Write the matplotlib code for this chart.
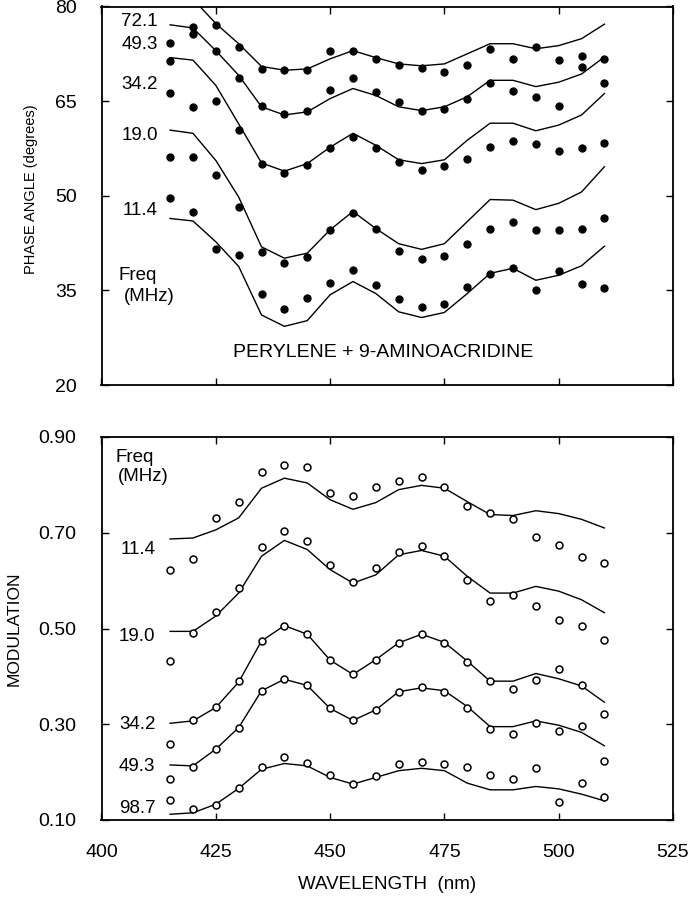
import matplotlib
matplotlib.use("Agg")
import matplotlib.pyplot as plt

plt.rcParams['font.family'] = ['Liberation Sans', 'DejaVu Sans']

# ---------------- data ----------------
wavelength = [415, 420, 425, 430, 435, 440, 445, 450, 455, 460,
              465, 470, 475, 480, 485, 490, 495, 500, 505, 510]

# Phase angle: model lines (top to bottom)
phase_line_1 = [81.6, 81.2, 77.3, 74.1, 70.5, 69.9, 70.1, 71.7, 73.0, 71.9,
                70.9, 70.6, 70.9, 72.5, 74.1, 74.1, 73.3, 73.8, 74.9, 77.2]
phase_line_2 = [77.1, 76.6, 73.0, 69.1, 64.1, 62.8, 63.3, 65.4, 67.0, 65.9,
                64.1, 63.5, 64.1, 65.7, 68.3, 68.3, 67.3, 68.0, 69.3, 72.0]
phase_line_3 = [71.9, 71.5, 67.5, 61.4, 55.2, 53.9, 55.1, 57.7, 59.9, 58.0,
                55.7, 55.1, 55.7, 58.8, 61.5, 61.5, 60.3, 61.2, 62.8, 66.2]
phase_line_4 = [60.4, 59.9, 55.6, 49.8, 41.9, 40.1, 40.9, 44.6, 47.5, 44.8,
                42.4, 41.5, 42.4, 45.9, 49.4, 49.3, 47.8, 48.8, 50.6, 54.6]
phase_line_5 = [46.4, 46.0, 42.7, 38.8, 31.1, 29.3, 30.2, 34.3, 36.4, 34.5,
                31.6, 30.7, 31.5, 34.5, 37.7, 38.5, 36.6, 37.4, 38.9, 42.0]

# Phase angle: measured points
phase_pts_1 = [74.2, 76.8, 77.0, 73.6, 70.1, 69.9, 70.0, 72.9, 73.0, 71.7,
               70.8, 70.2, 69.6, 70.8, 73.3, 71.7, 73.6, 71.5, 72.1, 71.6]
phase_pts_2 = [71.3, 75.7, 72.9, 68.7, 64.3, 63.0, 63.5, 66.8, 68.6, 66.4,
               64.9, 63.5, 63.8, 65.4, 67.8, 66.6, 65.7, 64.3, 70.4, 67.9]
phase_pts_3 = [66.3, 64.0, 65.0, 60.4, 55.1, 53.6, 54.8, 57.5, 59.3, 57.5,
               55.3, 54.1, 54.7, 55.9, 57.8, 58.6, 58.2, 57.1, 57.6, 58.3]
phase_pts_4 = [56.2, 56.2, 53.3, 48.2, 41.1, 39.4, 40.3, 44.6, 47.2, 44.7,
               41.2, 39.9, 40.4, 42.4, 44.8, 45.8, 44.6, 44.5, 44.8, 46.4]
phase_pts_5 = [49.6, 47.5, 41.5, 40.6, 34.5, 32.0, 33.8, 36.1, 38.3, 35.9,
               33.6, 32.3, 32.8, 35.6, 37.6, 38.5, 35.1, 38.1, 36.0, 35.3]

phase_labels = ["72.1", "49.3", "34.2", "19.0", "11.4"]
phase_label_y = [77.6, 73.9, 67.6, 59.5, 47.7]

# Modulation: model lines (top to bottom)
mod_line_1 = [0.687, 0.689, 0.706, 0.731, 0.793, 0.814, 0.804, 0.769, 0.749, 0.763,
              0.790, 0.799, 0.793, 0.765, 0.738, 0.736, 0.746, 0.740, 0.728, 0.710]
mod_line_2 = [0.494, 0.494, 0.526, 0.574, 0.651, 0.684, 0.665, 0.623, 0.595, 0.612,
              0.654, 0.663, 0.651, 0.609, 0.574, 0.574, 0.588, 0.578, 0.560, 0.533]
mod_line_3 = [0.302, 0.307, 0.335, 0.388, 0.474, 0.506, 0.488, 0.434, 0.404, 0.435,
              0.470, 0.488, 0.471, 0.432, 0.390, 0.390, 0.406, 0.395, 0.380, 0.346]
mod_line_4 = [0.215, 0.213, 0.248, 0.293, 0.370, 0.394, 0.381, 0.333, 0.308, 0.330,
              0.368, 0.376, 0.370, 0.337, 0.295, 0.295, 0.307, 0.298, 0.283, 0.255]
mod_line_5 = [0.112, 0.115, 0.133, 0.166, 0.206, 0.218, 0.213, 0.189, 0.175, 0.189,
              0.203, 0.208, 0.203, 0.177, 0.163, 0.163, 0.170, 0.165, 0.154, 0.140]

# Modulation: measured points
mod_pts_1 = [0.623, 0.646, 0.731, 0.765, 0.826, 0.842, 0.838, 0.784, 0.777, 0.795,
             0.808, 0.817, 0.796, 0.755, 0.742, 0.728, 0.692, 0.674, 0.649, 0.637]
mod_pts_2 = [0.432, 0.490, 0.534, 0.585, 0.671, 0.703, 0.682, 0.632, 0.597, 0.626,
             0.659, 0.673, 0.652, 0.602, 0.557, 0.569, 0.548, 0.517, 0.506, 0.477]
mod_pts_3 = [0.258, 0.308, 0.337, 0.390, 0.474, 0.506, 0.488, 0.434, 0.404, 0.435,
             0.470, 0.488, 0.470, 0.430, 0.390, 0.373, 0.392, 0.415, 0.381, 0.321]
mod_pts_4 = [0.185, 0.211, 0.248, 0.293, 0.370, 0.394, 0.381, 0.333, 0.308, 0.330,
             0.368, 0.378, 0.368, 0.333, 0.290, 0.279, 0.303, 0.286, 0.296, 0.224]
mod_pts_5 = [0.142, 0.124, 0.131, 0.166, 0.211, 0.231, 0.220, 0.194, 0.176, 0.192,
             0.218, 0.221, 0.218, 0.211, 0.195, 0.185, 0.208, 0.137, 0.178, 0.147]

mod_labels = ["11.4", "19.0", "34.2", "49.3", "98.7"]
mod_label_y = [0.665, 0.483, 0.300, 0.2125, 0.123]

x_ticks = [400, 425, 450, 475, 500, 525]
phase_ticks = [20, 35, 50, 65, 80]
mod_ticks = [0.10, 0.30, 0.50, 0.70, 0.90]

# ---------------- figure ----------------
W, H = 693, 900
fig = plt.figure(figsize=(W / 100, H / 100), dpi=100)

L, R = 101.5, 673.0
T1, B1 = 6.5, 385.0
T2, B2 = 437.0, 820.0
ax1 = fig.add_axes([L / W, 1 - B1 / H, (R - L) / W, (B1 - T1) / H])
ax2 = fig.add_axes([L / W, 1 - B2 / H, (R - L) / W, (B2 - T2) / H])

lw_line = 1.0
for ax in (ax1, ax2):
    ax.set_xlim(400, 525)
    ax.set_xticks(x_ticks)
    for s in ax.spines.values():
        s.set_linewidth(1.3)
    ax.tick_params(direction='in', top=True, right=True, length=5, width=1.0,
                   labelsize=14)
    ax.tick_params(axis='y', pad=18)
    ax.tick_params(axis='x', pad=17)

# top panel
phase_lines = [phase_line_1, phase_line_2, phase_line_3, phase_line_4, phase_line_5]
phase_pts = [phase_pts_1, phase_pts_2, phase_pts_3, phase_pts_4, phase_pts_5]
for ln in phase_lines:
    ax1.plot(wavelength, ln, color='black', lw=lw_line)
for pts in phase_pts:
    ax1.plot(wavelength, pts, 'o', color='black', ms=6.0, mew=0)
ax1.set_ylim(20, 80)
ax1.set_yticks(phase_ticks)
ax1.tick_params(axis='x', labelbottom=False)
for lab, yy in zip(phase_labels, phase_label_y):
    ax1.text(412.3, yy, lab, ha='right', va='center', fontsize=13.5)
ax1.text(403.8, 37.3, "Freq", ha='left', va='center', fontsize=13.5)
ax1.text(404.8, 34.1, "(MHz)", ha='left', va='center', fontsize=13.5)
ax1.text(461.5, 25.1, "PERYLENE + 9-AMINOACRIDINE", ha='center', va='center',
         fontsize=14)
ax1.set_ylabel("PHASE ANGLE (degrees)", fontsize=10.5)
ax1.yaxis.set_label_coords((38 - L) / (R - L), (B1 - 189) / (B1 - T1))

# bottom panel
mod_lines = [mod_line_1, mod_line_2, mod_line_3, mod_line_4, mod_line_5]
mod_pts = [mod_pts_1, mod_pts_2, mod_pts_3, mod_pts_4, mod_pts_5]
for ln in mod_lines:
    ax2.plot(wavelength, ln, color='black', lw=lw_line)
for pts in mod_pts:
    ax2.plot(wavelength, pts, 'o', mfc='white', mec='black', ms=5.0, mew=1.1)
ax2.set_ylim(0.10, 0.90)
ax2.set_yticks(mod_ticks)
ax2.set_yticklabels([f"{v:.2f}" for v in mod_ticks])
for lab, yy in zip(mod_labels, mod_label_y):
    ax2.text(411.8, yy, lab, ha='right', va='center', fontsize=13.5)
ax2.text(403.0, 0.858, "Freq", ha='left', va='center', fontsize=13.5)
ax2.text(403.5, 0.817, "(MHz)", ha='left', va='center', fontsize=13.5)
ax2.set_ylabel("MODULATION", fontsize=12.5)
ax2.yaxis.set_label_coords((22 - L) / (R - L), 0.5)
ax2.set_xlabel("WAVELENGTH  (nm)", fontsize=13.5)
ax2.xaxis.set_label_coords(0.5, -(876 - B2) / (B2 - T2))

fig.savefig("out.png", dpi=100)
